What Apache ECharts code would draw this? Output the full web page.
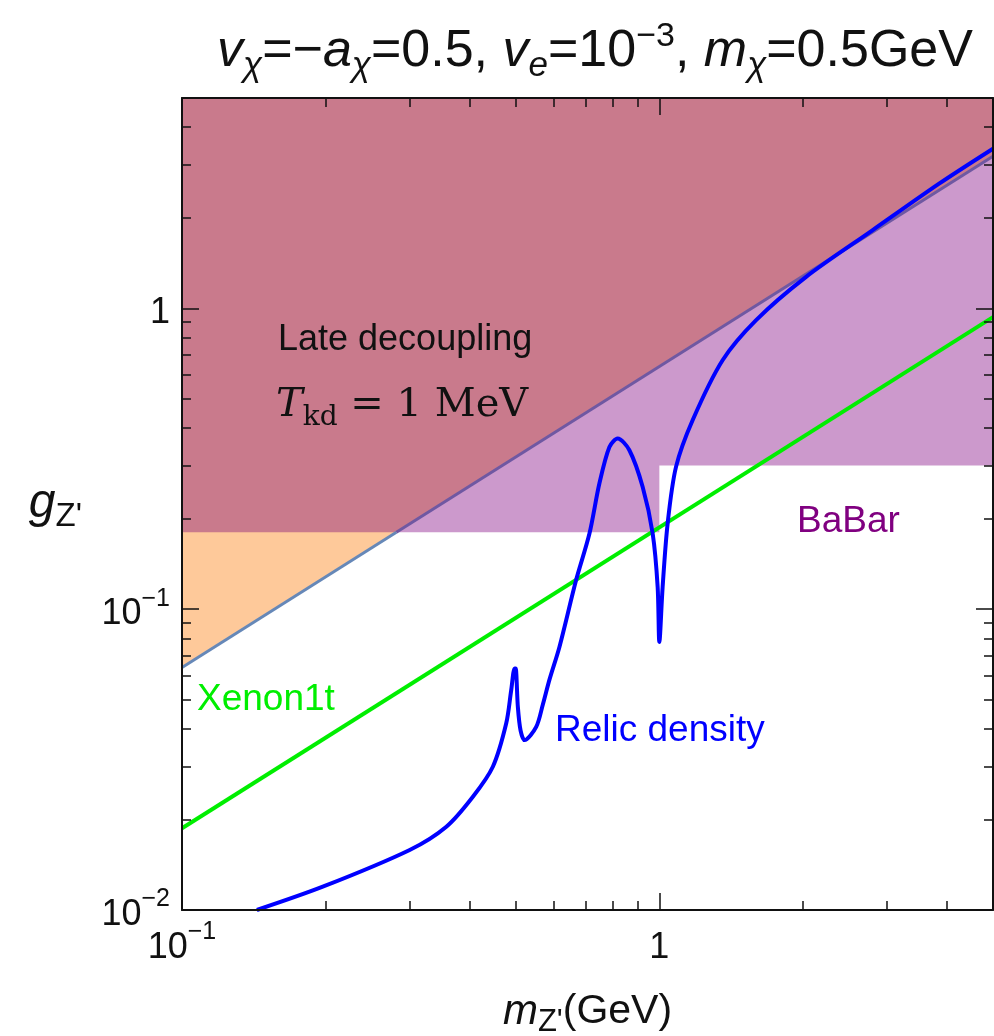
<!DOCTYPE html>
<html><head><meta charset="utf-8">
<script src="https://cdn.jsdelivr.net/npm/echarts@6/dist/echarts.min.js"></script>
<style>html,body{margin:0;padding:0;background:#fff}#c{width:994px;height:1036px}</style>
</head><body><div id="c"></div>
<script>
// ---- axis ranges & ticks ----
const xMin = 0.1, xMax = 5;
const yMin = 0.01, yMax = 5;
const xMinorTicks = [0.2,0.3,0.4,0.5,0.6,0.7,0.8,0.9,2,3,4];
const yMinorTicks = [0.02,0.03,0.04,0.05,0.06,0.07,0.08,0.09,0.2,0.3,0.4,0.5,0.6,0.7,0.8,0.9,2,3,4];
const xTickLabels = { '0.1': ['10','−1'], '1': ['1',''] };
const yTickLabels = { '0.01': ['10','−2'], '0.1': ['10','−1'], '1': ['1',''] };

// ---- curves (m_Z' in GeV, g_Z') ----
const relicX = [0.1435,0.1972,0.2999,0.3579,0.4068,0.4479,0.4778,0.4894,0.4975,0.5000,0.5053,0.5120,0.5220,0.5521,0.5701,0.5886,0.6176,0.6693,0.7138,0.7488,0.7860,0.8179,0.8655,0.9228,0.9683,0.9918,1.0000,1.0160,1.0408,1.0837,1.174,1.3566,1.593,2.027,2.794,3.855,5.0];
const relicY = [0.0100,0.01195,0.01583,0.01891,0.02379,0.02993,0.04174,0.0538,0.0635,0.0635,0.0474,0.0395,0.0367,0.0406,0.0482,0.0583,0.0749,0.1249,0.1784,0.2616,0.3461,0.3691,0.3375,0.2548,0.1784,0.1186,0.0778,0.1186,0.1926,0.2971,0.4245,0.672,0.912,1.270,1.816,2.596,3.393];
const xenonX = [0.1, 5];
const xenonY = [0.0187, 0.935];
const lateX = [0.1, 5];
const lateY = [0.064, 3.2];
const babarX = [0.1, 1, 1, 5];
const babarY = [0.18, 0.18, 0.3, 0.3];

// ---- helpers ----
const zip = (xs, ys) => xs.map((x, i) => [x, ys[i]]);
function lateXAt(g) {
  const lx0 = Math.log10(lateX[0]), lx1 = Math.log10(lateX[1]);
  const ly0 = Math.log10(lateY[0]), ly1 = Math.log10(lateY[1]);
  return Math.pow(10, lx0 + (Math.log10(g) - ly0) / (ly1 - ly0) * (lx1 - lx0));
}
const xCross = lateXAt(babarY[0]);
const overlapData = [[babarX[0], babarY[0]], [xCross, babarY[0]], [lateX[1], lateY[1]]];
const lateLow = [[lateX[0], lateY[0]], [xCross, babarY[0]]];
const lateHigh = [[xCross, babarY[0]], [lateX[1], lateY[1]]];

const FONT = '"Liberation Sans", Arial, Helvetica, sans-serif';
const SERIF = '"DejaVu Serif", "Liberation Serif", serif';

function tickFmt(map) {
  return function (v) {
    const key = String(+v.toPrecision(6));
    const t = map[key];
    if (!t) return '';
    return t[1] ? '{b|' + t[0] + '}{s|' + t[1] + '}' : '{b|' + t[0] + '}';
  };
}
const tickRich = {
  b: { fontSize: 36, fontFamily: FONT, color: '#111', lineHeight: 46, verticalAlign: 'bottom' },
  s: { fontSize: 25, fontFamily: FONT, color: '#111', lineHeight: 46, verticalAlign: 'top' }
};

const lineAxis = { show: true, lineStyle: { color: '#111', width: 2 } };

function xAxisDef(pos, minor, labels) {
  return {
    type: 'log', logBase: 10, min: xMin, max: xMax, position: pos, z: 20,
    axisLine: minor ? { show: false } : lineAxis,
    axisTick: minor
      ? { show: true, inside: true, length: 9, customValues: xMinorTicks, lineStyle: { color: '#111', width: 1.5 } }
      : { show: true, inside: true, length: 17, lineStyle: { color: '#111', width: 1.5 } },
    axisLabel: labels
      ? { show: true, margin: 10, showMinLabel: true, showMaxLabel: false, formatter: tickFmt(xTickLabels), rich: tickRich }
      : { show: false },
    splitLine: { show: false }, minorTick: { show: false }, minorSplitLine: { show: false }
  };
}
function yAxisDef(pos, minor, labels) {
  return {
    type: 'log', logBase: 10, min: yMin, max: yMax, position: pos, z: 20,
    axisLine: minor ? { show: false } : lineAxis,
    axisTick: minor
      ? { show: true, inside: true, length: 9, customValues: yMinorTicks, lineStyle: { color: '#111', width: 1.5 } }
      : { show: true, inside: true, length: 17, lineStyle: { color: '#111', width: 1.5 } },
    axisLabel: labels
      ? { show: true, margin: 12, showMinLabel: true, showMaxLabel: false, formatter: tickFmt(yTickLabels), rich: tickRich }
      : { show: false },
    splitLine: { show: false }, minorTick: { show: false }, minorSplitLine: { show: false }
  };
}

const xAxes = [xAxisDef('bottom', false, true), xAxisDef('bottom', true, false), xAxisDef('top', false, false), xAxisDef('top', true, false)];
const yAxes = [yAxisDef('left', false, true), yAxisDef('left', true, false), yAxisDef('right', false, false), yAxisDef('right', true, false)];
xAxes[0].name = "{m|m}{sub|Z'}{n|(GeV)}";
xAxes[0].nameLocation = 'middle';
xAxes[0].nameGap = 76;
xAxes[0].nameTextStyle = { rich: {
  m: { fontSize: 42, fontFamily: FONT, fontStyle: 'italic', color: '#111', lineHeight: 52, verticalAlign: 'middle' },
  sub: { fontSize: 31, fontFamily: FONT, color: '#111', lineHeight: 52, verticalAlign: 'bottom' },
  n: { fontSize: 41, fontFamily: FONT, color: '#111', lineHeight: 52, verticalAlign: 'middle' }
} };
yAxes[0].name = "{g|g}{sub|Z'}";
yAxes[0].nameLocation = 'middle';
yAxes[0].nameRotate = 0;
yAxes[0].nameGap = 100;
yAxes[0].nameTextStyle = { rich: {
  g: { fontSize: 48, fontFamily: FONT, fontStyle: 'italic', color: '#111', lineHeight: 58, verticalAlign: 'middle' },
  sub: { fontSize: 33, fontFamily: FONT, color: '#111', lineHeight: 58, verticalAlign: 'bottom' }
} };

const baseLine = { type: 'line', xAxisIndex: 0, yAxisIndex: 0, symbol: 'none', showSymbol: false, silent: true, animation: false };

const option = {
  animation: false,
  backgroundColor: '#ffffff',
  grid: { left: 182, right: 1, top: 98, bottom: 126, containLabel: false, outerBoundsMode: 'none' },
  title: {
    text: '{i|v}{sb|χ}{n|=−}{i|a}{sb|χ}{n|=0.5, }{i|v}{sb|e}{n|=10}{sp|−3}{n|, }{i|m}{sb|χ}{n|=0.5GeV}',
    left: 590, top: 15, textAlign: 'center',
    textStyle: { fontWeight: 'normal', rich: {
      i: { fontSize: 52, fontFamily: FONT, fontStyle: 'italic', fontWeight: 'normal', color: '#111', lineHeight: 64, verticalAlign: 'middle' },
      n: { fontSize: 52, fontFamily: FONT, fontWeight: 'normal', color: '#111', lineHeight: 64, verticalAlign: 'middle' },
      sb: { fontSize: 35, fontFamily: FONT, fontStyle: 'italic', fontWeight: 'normal', color: '#111', lineHeight: 64, verticalAlign: 'bottom' },
      sp: { fontSize: 34, fontFamily: FONT, fontWeight: 'normal', color: '#111', lineHeight: 64, verticalAlign: 'top' }
    } }
  },
  xAxis: xAxes,
  yAxis: yAxes,
  series: [
    Object.assign({}, baseLine, { name: 'BaBar', data: zip(babarX, babarY), lineStyle: { width: 0 },
      areaStyle: { origin: 'end', color: '#cc99cc', opacity: 1 } }),
    Object.assign({}, baseLine, { name: 'Late decoupling', data: zip(lateX, lateY), lineStyle: { width: 0 },
      areaStyle: { origin: 'end', color: '#fec99a', opacity: 1 } }),
    Object.assign({}, baseLine, { name: 'Overlap', data: overlapData, lineStyle: { width: 0 },
      areaStyle: { origin: 'end', color: '#c97a8c', opacity: 1 } }),
    Object.assign({}, baseLine, { name: 'Late line lower', data: lateLow, lineStyle: { color: '#6688b8', width: 3 } }),
    Object.assign({}, baseLine, { name: 'Late line upper', data: lateHigh, lineStyle: { color: '#6f58a2', width: 3 } }),
    Object.assign({}, baseLine, { name: 'Xenon1t', data: zip(xenonX, xenonY), lineStyle: { color: '#00ee00', width: 4 } }),
    Object.assign({}, baseLine, { name: 'Relic density', data: zip(relicX, relicY), smooth: 0.3,
      lineStyle: { color: '#0000ff', width: 4 } })
  ],
  graphic: [
    { type: 'text', left: 278, top: 322, z: 100, style: { text: 'Late decoupling', font: '36px ' + FONT, fill: '#111' } },
    { type: 'text', left: 276, top: 386, z: 100, style: {
      text: '{t|T}{k|kd}{n| = 1 MeV}',
      rich: {
        t: { fontSize: 40, fontFamily: SERIF, fontStyle: 'italic', fill: '#111', lineHeight: 52, verticalAlign: 'middle' },
        k: { fontSize: 28, fontFamily: SERIF, fill: '#111', lineHeight: 52, verticalAlign: 'bottom' },
        n: { fontSize: 40, fontFamily: SERIF, fill: '#111', lineHeight: 52, verticalAlign: 'middle' }
      } } },
    { type: 'text', left: 197, top: 681, z: 100, style: { text: 'Xenon1t', font: '37px ' + FONT, fill: '#00ee00' } },
    { type: 'text', left: 555, top: 712, z: 100, style: { text: 'Relic density', font: '37px ' + FONT, fill: '#0000ff' } },
    { type: 'text', left: 797, top: 503, z: 100, style: { text: 'BaBar', font: '37px ' + FONT, fill: '#800080' } }
  ]
};
const chart = echarts.init(document.getElementById('c'), null, { renderer: 'canvas' });
chart.setOption(option);
</script>
</body></html>
